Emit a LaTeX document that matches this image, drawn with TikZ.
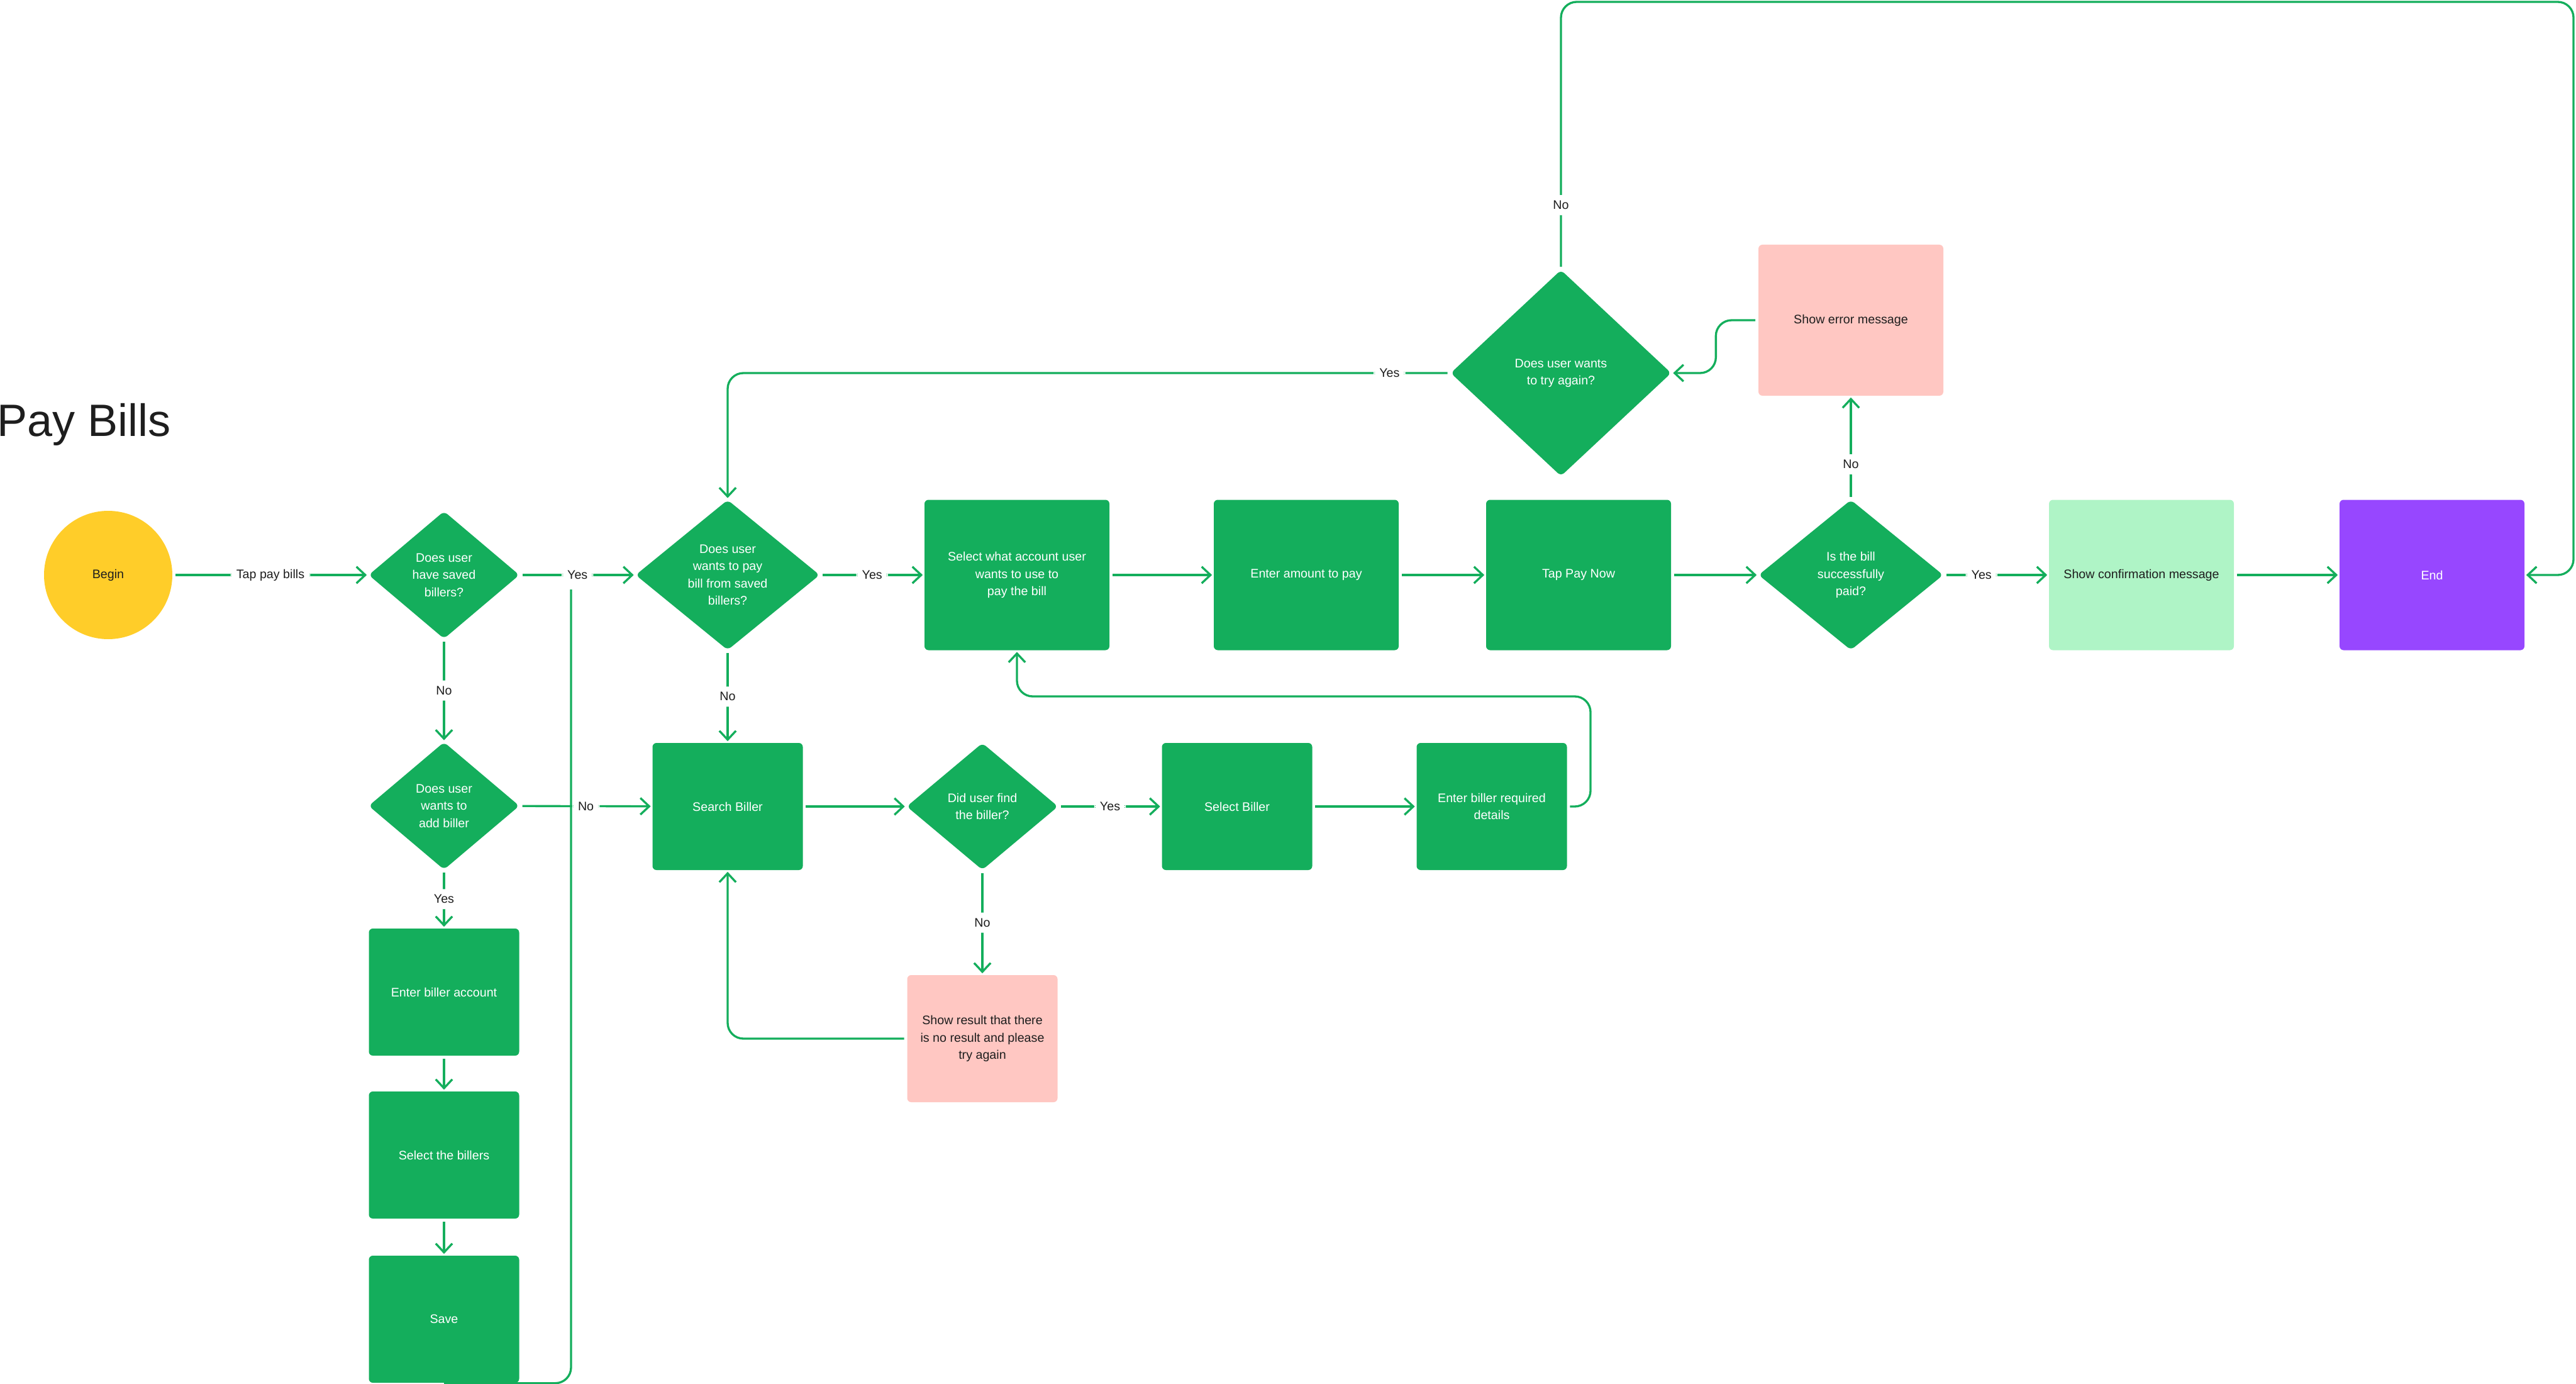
\documentclass[tikz,border=0pt]{standalone}
\usepackage{fontspec}
\setmainfont{Liberation Sans}
\usetikzlibrary{shapes.geometric,arrows.meta}

\definecolor{flowgreen}{HTML}{14AE5C}
\definecolor{errpink}{HTML}{FFC7C2}
\definecolor{okgreen}{HTML}{AFF4C6}
\definecolor{endpurple}{HTML}{9747FF}
\definecolor{beginyellow}{HTML}{FFCD29}
\definecolor{ink}{HTML}{1E1E1E}

\newcommand{\boxfont}{\fontsize{5.6}{7.8}\selectfont}

\begin{document}
\begin{tikzpicture}[
    box/.style={rectangle, rounded corners=1.8pt, fill=flowgreen, text=white, align=center, font=\boxfont, minimum width=2.94cm, minimum height=2.39cm, inner sep=0pt},
    smallbox/.style={box, minimum width=2.39cm, minimum height=2.02cm},
    decision/.style={diamond, rounded corners=2pt, fill=flowgreen, text=white, align=center, font=\boxfont, inner sep=0pt},
    lbl/.style={fill=white, text=ink, font=\boxfont, inner sep=2.6pt},
    link/.style={draw=flowgreen, line width=0.95pt, rounded corners=0.25cm},
    flow/.style={link, -{Straight Barb[length=4pt,width=7.5pt]}, shorten >=0.6pt, shorten <=1.2pt}
]
    \useasboundingbox (0,0) rectangle (40.96,-22);

    \node[font=\fontsize{20.5}{24}\selectfont, text=ink, anchor=base west, inner sep=0pt] (title) at (-0.05,-6.93) {Pay Bills};

    % main row
    \node[circle, fill=beginyellow, text=ink, font=\boxfont, minimum size=2.04cm, inner sep=0pt] (begin) at (1.72,-9.14) {Begin};
    \node[decision, minimum width=2.40cm, minimum height=2.03cm] (saved) at (7.06,-9.14) {Does user\\have saved\\billers?};
    \node[decision, minimum width=2.93cm, minimum height=2.39cm] (fromsaved) at (11.57,-9.14) {Does user\\wants to pay\\bill from saved\\billers?};
    \node[box] (account) at (16.17,-9.14) {Select what account user\\wants to use to\\pay the bill};
    \node[box] (amount) at (20.77,-9.14) {Enter amount to pay};
    \node[box] (paynow) at (25.10,-9.14) {Tap Pay Now};
    \node[decision, minimum width=2.94cm, minimum height=2.39cm] (paid) at (29.43,-9.14) {Is the bill\\successfully\\paid?};
    \node[box, fill=okgreen, text=ink] (confirm) at (34.05,-9.14) {Show confirmation message};
    \node[box, fill=endpurple] (endbox) at (38.67,-9.14) {End};

    % retry
    \node[box, fill=errpink, text=ink, minimum height=2.40cm] (error) at (29.43,-5.09) {Show error message};
    \node[decision, minimum width=3.51cm, minimum height=3.28cm] (again) at (24.82,-5.93) {Does user wants\\to try again?};

    % search row
    \node[decision, minimum width=2.40cm, minimum height=2.03cm] (addbiller) at (7.06,-12.81) {Does user\\wants to\\add biller};
    \node[smallbox] (search) at (11.57,-12.82) {Search Biller};
    \node[decision, minimum width=2.41cm, minimum height=2.02cm] (found) at (15.62,-12.82) {Did user find\\the biller?};
    \node[smallbox] (selbiller) at (19.67,-12.82) {Select Biller};
    \node[smallbox] (details) at (23.72,-12.82) {Enter biller required\\details};
    \node[smallbox, fill=errpink, text=ink] (noresult) at (15.62,-16.51) {Show result that there\\is no result and please\\try again};

    % add biller column
    \node[smallbox] (enteracc) at (7.06,-15.77) {Enter biller account};
    \node[smallbox] (selbillers) at (7.06,-18.36) {Select the billers};
    \node[smallbox] (save) at (7.06,-20.97) {Save};

    \coordinate (savejoin) at (9.08,-9.37);
    \coordinate (loopturn) at (25.29,-11.07);
    \coordinate (topturn) at (40.92,-0.03);

    \draw[flow] (begin) -- node[lbl] {Tap pay bills} (saved);
    \draw[flow] (saved) -- node[lbl] {Yes} (fromsaved);
    \draw[flow] (saved) -- node[lbl] {No} (addbiller);
    \draw[flow] (addbiller) -- node[lbl] {Yes} (enteracc);
    \draw[flow] (addbiller) -- node[lbl] {No} (search);
    \draw[flow] (enteracc) -- (selbillers);
    \draw[flow] (selbillers) -- (save);
    \draw[link] (save.south) -| (savejoin);

    \draw[flow] (fromsaved) -- node[lbl] {Yes} (account);
    \draw[flow] (fromsaved) -- node[lbl] {No} (search);
    \draw[flow] (search) -- (found);
    \draw[flow] (found) -- node[lbl] {Yes} (selbiller);
    \draw[flow] (found) -- node[lbl] {No} (noresult);
    \draw[flow] (noresult.west) -| (search.south);
    \draw[flow] (selbiller) -- (details);
    \draw[flow] (details.east) -| (loopturn) -| (account.south);

    \draw[flow] (account) -- (amount);
    \draw[flow] (amount) -- (paynow);
    \draw[flow] (paynow) -- (paid);
    \draw[flow] (paid) -- node[lbl, pos=0.36] {Yes} (confirm);
    \draw[flow] (confirm) -- (endbox);
    \draw[flow] (paid.north) -- node[lbl, pos=0.34] {No} (error.south);

    \draw[flow] (error.west) -- ++(-0.67,0) |- (again.east);
    \draw[flow] (again.west) -| node[lbl, pos=0.042] {Yes} (fromsaved.north);
    \draw[flow] (again.north) |- node[lbl, pos=0.12] {No} (topturn) |- (endbox.east);
\end{tikzpicture}
\end{document}
